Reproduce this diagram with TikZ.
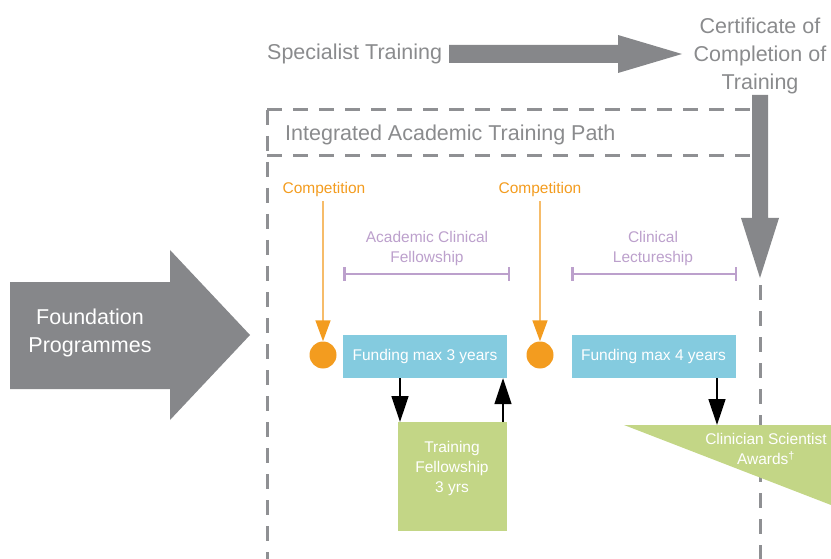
\documentclass[tikz,border=0pt]{standalone}
\usepackage{fontspec}
\setmainfont{Liberation Sans}
\usetikzlibrary{arrows.meta,calc}
\definecolor{gbar}{HTML}{86878A}
\definecolor{gtext}{HTML}{8A8B8D}
\definecolor{gdash}{HTML}{8F9093}
\definecolor{orng}{HTML}{F39C1F}
\definecolor{orngl}{HTML}{F6BC6A}
\definecolor{purp}{HTML}{BCA0CC}
\definecolor{blu}{HTML}{84CBDF}
\definecolor{grn}{HTML}{C3D686}
\tikzset{
  graytxt/.style={text=gtext,font=\fontsize{21.5}{28}\selectfont,align=center,inner sep=0pt},
  comptxt/.style={text=orng,font=\fontsize{15.5}{20}\selectfont,inner sep=0pt},
  purptxt/.style={text=purp,font=\fontsize{15.5}{20}\selectfont,align=center,inner sep=0pt},
  fundbox/.style={fill=blu,text=white,font=\fontsize{15.5}{20}\selectfont,minimum width=164pt,minimum height=43pt,inner sep=0pt},
  dashline/.style={draw=gdash,line width=3pt,dash pattern=on 15pt off 11pt},
  bracket/.style={draw=purp,line width=2.5pt,{Bar[width=13pt,line width=2.5pt]}-{Bar[width=13pt,line width=2.5pt]}},
  comparrow/.style={draw=orngl,line width=1.5pt,-{Triangle[length=21pt,width=15pt,color=orng]}},
  blackarrow/.style={draw=black,line width=1.4pt,-{Triangle[length=26pt,width=17pt]}},
  dot/.style={circle,fill=orng,minimum size=27pt,inner sep=0pt}
}
\begin{document}
\begin{tikzpicture}[x=1pt,y=-1pt]
\useasboundingbox (0,0) rectangle (831,559);
% Foundation arrow
\fill[gbar] (10,282) -- (170,282) -- (170,250) -- (250,335) -- (170,420) -- (170,389) -- (10,389) -- cycle;
\node[graytxt,text=white] (found) at (90,333) {Foundation\\Programmes};
% Specialist training
\node[graytxt,anchor=west] (spec) at (267,54) {Specialist Training};
\node[graytxt] (cert) at (760,56) {Certificate of\\Completion of\\Training};
\fill[gbar] (449,45) -- (618,45) -- (618,35) -- (682,54) -- (618,73) -- (618,63) -- (449,63) -- cycle;
% vertical arrow
\fill[gbar] (752,95) -- (768,95) -- (768,218) -- (779,218) -- (760,278) -- (741,218) -- (752,218) -- cycle;
% dashed box
\draw[dashline] (267,110) -- (752,110);
\draw[dashline] (267,156) -- (752,156);
\draw[dashline] (267,110) -- (267,559);
\draw[dashline] (760,285) -- (760,559);
\node[graytxt,anchor=west] (iat) at (285,135) {Integrated Academic Training Path};
% competitions
\node[comptxt] (c1) at (324,189) {Competition};
\node[comptxt] (c2) at (540,189) {Competition};
\node[dot] (d1) at (323,355) {};
\node[dot] (d2) at (540,355) {};
\draw[comparrow] (c1.south -| d1) ++(0,5) -- (d1.north);
\draw[comparrow] (c2.south -| d2) ++(0,5) -- (d2.north);
% purple
\node[purptxt] (acf) at (427,248) {Academic Clinical\\Fellowship};
\node[purptxt] (cl) at (653,248) {Clinical\\Lectureship};
\draw[bracket] (343,274) -- (510,274);
\draw[bracket] (571,274) -- (737,274);
% funding boxes
\node[fundbox] (f3) at (425,356.5) {Funding max 3 years};
\node[fundbox] (f4) at (653.5,356.5) {Funding max 4 years};
% training fellowship
\node[fill=grn,minimum width=109pt,minimum height=109pt,inner sep=0pt,anchor=north west] (tf) at (398,422) {};
\node[text=white,font=\fontsize{15.5}{20}\selectfont,align=center,inner sep=0pt] (tft) at (452,468) {Training\\Fellowship\\3 yrs};
\coordinate (xa) at (400,0);
\coordinate (xb) at (503,0);
\coordinate (xc) at (717,0);
\draw[blackarrow] (f3.south -| xa) -- (tf.north -| xa);
\draw[blackarrow] (tf.north -| xb) -- (f3.south -| xb);
% clinician scientist awards
\fill[grn] (624,425) -- (831,425) -- (831,505) -- cycle;
\coordinate (csa) at (624,425);
\node[text=white,font=\fontsize{15.5}{20}\selectfont,align=center,inner sep=0pt] (cst) at (766,449) {Clinician Scientist\\Awards\textsuperscript{†}};
\draw[blackarrow] (f4.south -| xc) -- (csa -| xc);
\end{tikzpicture}
\end{document}
